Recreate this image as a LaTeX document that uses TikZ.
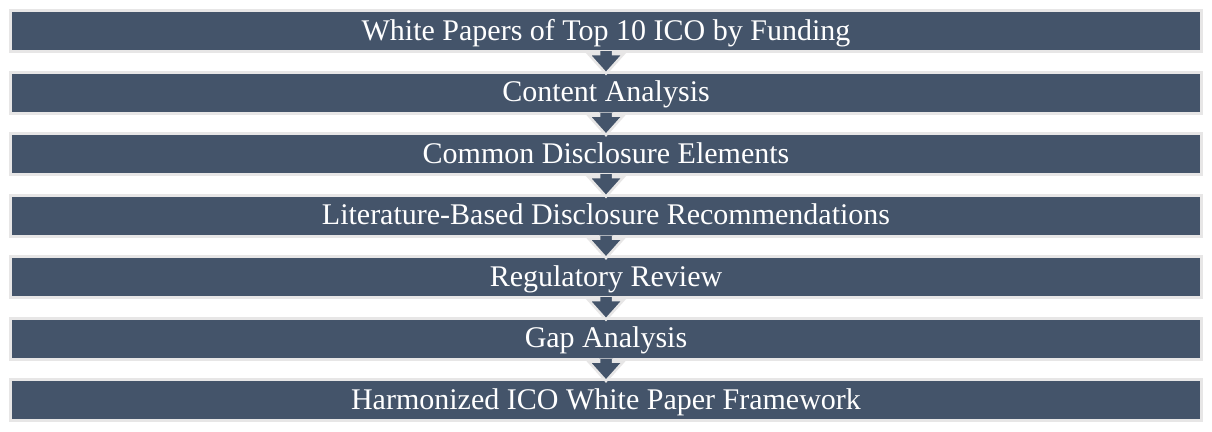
\documentclass[tikz,border=0pt]{standalone}
\usepackage{fontspec}
\setmainfont{Liberation Serif}
\usetikzlibrary{calc}
\definecolor{boxblue}{HTML}{44546A}
\definecolor{boxline}{HTML}{E7E6E6}
\tikzset{
  stagebox/.style={draw=boxline, line width=3pt, fill=boxblue, text=white,
    minimum width=1191pt, minimum height=41pt, inner sep=0pt,
    font=\fontsize{30}{33}\selectfont, text height=20pt, text depth=2pt},
  flowarrow/.style={fill=boxblue, draw=boxline, line width=2.5pt, line join=miter}
}
\newcommand{\flowarrowbetween}[2]{%
  \draw[flowarrow] ($(#1.south)+(-7,-2)$) -- ($(#1.south)+(-7,1)$) -- ($(#1.south)+(-17.5,1)$)
    -- ($(#2.north)+(0,3)$) -- ($(#1.south)+(17.5,1)$) -- ($(#1.south)+(7,1)$)
    -- ($(#1.south)+(7,-2)$);}
\begin{document}
\begin{tikzpicture}[x=1pt,y=-1pt]
\useasboundingbox[fill=white] (0,0) rectangle (1212,431);
\node[stagebox] (s1) at (606,31) {White Papers of Top 10 ICO by Funding};
\node[stagebox] (s2) at (606,92.5) {Content Analysis};
\node[stagebox] (s3) at (606,154) {Common Disclosure Elements};
\node[stagebox] (s4) at (606,215.5) {Literature-Based Disclosure Recommendations};
\node[stagebox] (s5) at (606,277) {Regulatory Review};
\node[stagebox] (s6) at (606,338.5) {Gap Analysis};
\node[stagebox] (s7) at (606,400) {Harmonized ICO White Paper Framework};
\flowarrowbetween{s1}{s2}
\flowarrowbetween{s2}{s3}
\flowarrowbetween{s3}{s4}
\flowarrowbetween{s4}{s5}
\flowarrowbetween{s5}{s6}
\flowarrowbetween{s6}{s7}
\end{tikzpicture}
\end{document}
